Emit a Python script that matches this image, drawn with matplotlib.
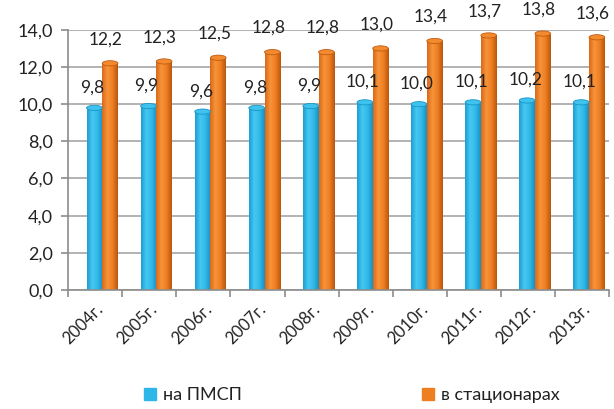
import numpy as np
import matplotlib.pyplot as plt
from matplotlib.patches import Ellipse, Patch
from matplotlib.colors import LinearSegmentedColormap

# данные
years = ['2004г.', '2005г.', '2006г.', '2007г.', '2008г.',
         '2009г.', '2010г.', '2011г.', '2012г.', '2013г.']
pmsp = [9.8, 9.9, 9.6, 9.8, 9.9, 10.1, 10.0, 10.1, 10.2, 10.1]
stac = [12.2, 12.3, 12.5, 12.8, 12.8, 13.0, 13.4, 13.7, 13.8, 13.6]
series_names = ['на ПМСП', 'в стационарах']
y_ticks = [0, 2, 4, 6, 8, 10, 12, 14]

plt.rcParams['font.family'] = ['Lato', 'DejaVu Sans']

blue_cmap = LinearSegmentedColormap.from_list(
    'b', ['#1C9ED3', '#45C8F2', '#32B9E8', '#1690C2'])
orange_cmap = LinearSegmentedColormap.from_list(
    'o', ['#D8691A', '#F8943A', '#EE7E22', '#B9560F'])


def cylinder(ax, bars, cmap, top_color):
    """Рисует столбики как цилиндры: градиент и эллипс сверху"""
    grad = np.linspace(0, 1, 64).reshape(1, -1)
    for b in bars:
        x0, w, h = b.get_x(), b.get_width(), b.get_height()
        b.set_facecolor('none')
        b.set_edgecolor('none')
        im = ax.imshow(grad, cmap=cmap, aspect='auto', extent=(x0, x0 + w, 0, h),
                       zorder=2)
        im.set_clip_path(b)
        ax.add_patch(Ellipse((x0 + w / 2, h), w, 0.28, facecolor=top_color,
                             edgecolor=cmap(0.95), lw=0.6, zorder=3))
        ax.add_patch(Ellipse((x0 + w / 2, 0), w, 0.28, facecolor=cmap(0.5),
                             edgecolor='none', zorder=1.9))


fig = plt.figure(figsize=(6.14, 4.09), dpi=100)
ax = fig.add_axes([0.111, 0.291, 0.881, 0.636])

x = np.arange(len(years))
w = 0.29
b1 = ax.bar(x + 0.13 - w / 2, pmsp, w, zorder=2)
b2 = ax.bar(x + 0.13 + w / 2, stac, w, zorder=2)
cylinder(ax, b1, blue_cmap, '#3FC2EE')
cylinder(ax, b2, orange_cmap, '#F48A2E')

for xi, v in zip(x, pmsp):
    ax.text(xi - 0.05, v + 1.1, f'{v:.1f}'.replace('.', ','), ha='center',
            va='center', fontsize=12.5, color='#222222')
for xi, v in zip(x, stac):
    ax.text(xi + 0.2, v + 1.3, f'{v:.1f}'.replace('.', ','), ha='center',
            va='center', fontsize=12.5, color='#222222')

ax.set_xlim(-0.5, len(years) - 0.5)
ax.set_ylim(0, 14)
ax.set_yticks(y_ticks)
ax.set_yticklabels([f'{t:.1f}'.replace('.', ',') for t in y_ticks], fontsize=13,
                   color='#222222')
ax.yaxis.grid(True, color='#A6A6A6', lw=1.2)
ax.set_axisbelow(True)

ax.set_xticks(x)
ax.set_xticklabels(years, rotation=45, ha='right', va='top',
                   rotation_mode='anchor', fontsize=12, color='#222222')
ax.set_xticks(np.arange(len(years) + 1) - 0.5, minor=True)
ax.tick_params(axis='x', which='major', length=0, pad=8)
ax.tick_params(axis='x', which='minor', length=5, color='#8C8C8C', width=1.2)
ax.tick_params(axis='y', length=5, color='#8C8C8C', width=1.2, pad=6)

for s in ['top', 'right']:
    ax.spines[s].set_visible(False)
for s in ['left', 'bottom']:
    ax.spines[s].set_color('#8C8C8C')
    ax.spines[s].set_linewidth(1.2)

handles = [Patch(color='#2DB6E8'), Patch(color='#EE7E22')]
fig.legend(handles, series_names, loc='lower center', ncol=2,
           bbox_to_anchor=(0.573, -0.025), frameon=False, fontsize=13,
           handlelength=0.65, handleheight=0.65, handletextpad=0.4,
           columnspacing=10.0, labelcolor='#222222')

fig.savefig('out.png', dpi=100)
